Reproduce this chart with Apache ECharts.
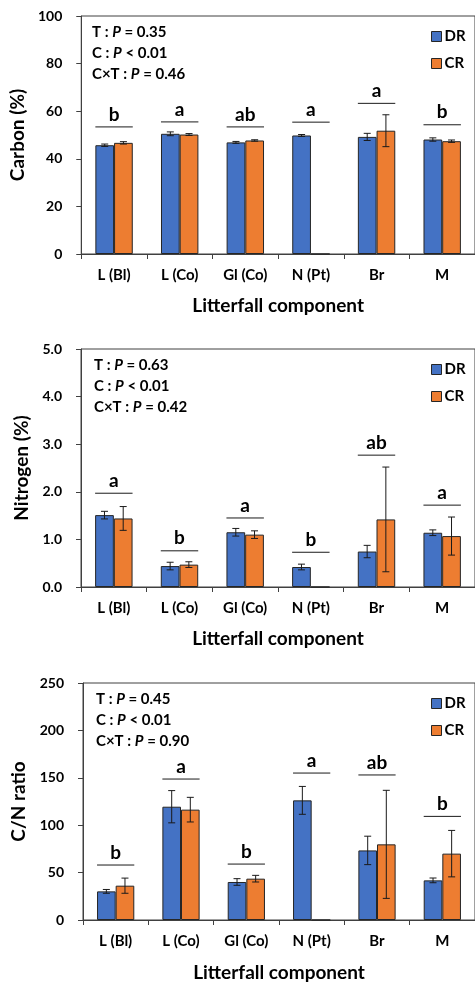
<!DOCTYPE html>
<html>
<head>
<meta charset="UTF-8">
<title>Litterfall C, N and C/N</title>
<script src="https://cdn.jsdelivr.net/npm/echarts@6/dist/echarts.min.js"></script>
<style>
  html, body { margin: 0; padding: 0; background: #fff; }
  #chart { width: 475px; height: 983px; }
</style>
</head>
<body>
<div id="chart"></div>
<script>
// categories
var categories = ['L (Bl)', 'L (Co)', 'Gl (Co)', 'N (Pt)', 'Br', 'M'];

// carbon (%)
var carbonDR = [45.7, 50.5, 46.9, 49.8, 49.2, 48.1];
var carbonDRErr = [0.5, 0.8, 0.4, 0.4, 1.5, 0.7];
var carbonCR = [46.7, 50.2, 47.7, 0, 51.8, 47.4];
var carbonCRErr = [0.5, 0.4, 0.3, 0, 6.7, 0.5];
var carbonLetters = ['b', 'a', 'ab', 'a', 'a', 'b'];
var carbonLineAt = [53.4, 55.5, 53.4, 55.4, 63.3, 54.3];
var carbonStats = ['0.35', '< 0.01', '0.46'];

// nitrogen (%)
var nitroDR = [1.51, 0.44, 1.15, 0.42, 0.745, 1.14];
var nitroDRErr = [0.08, 0.08, 0.08, 0.06, 0.13, 0.06];
var nitroCR = [1.44, 0.47, 1.10, 0, 1.42, 1.07];
var nitroCRErr = [0.25, 0.06, 0.08, 0, 1.1, 0.4];
var nitroLetters = ['a', 'b', 'a', 'b', 'ab', 'a'];
var nitroLineAt = [1.97, 0.76, 1.45, 0.73, 2.77, 1.72];
var nitroStats = ['0.63', '< 0.01', '0.42'];

// C/N ratio
var cnDR = [30.2, 119.5, 40.1, 126.2, 73.4, 41.8];
var cnDRErr = [2, 17, 3.5, 14.7, 15, 2.5];
var cnCR = [36.2, 116.4, 43.6, 0, 79.8, 70];
var cnCRErr = [8, 13, 3.5, 0, 57, 24.5];
var cnLetters = ['b', 'a', 'b', 'a', 'ab', 'b'];
var cnLineAt = [58, 148.7, 59, 155, 153, 109.3];
var cnStats = ['0.45', '< 0.01', '0.90'];

var FONT = 'Lato';
var BLUE = '#4472C4';
var ORANGE = '#ED7D31';
var EDGE = '#262626';
var PAIR = 0.57; // share of the category used by the two bars

var panels = [
  { name: 'Carbon (%)', max: 100, interval: 20, dec: 0, dr: carbonDR, drErr: carbonDRErr, cr: carbonCR, crErr: carbonCRErr,
    letters: carbonLetters, lineAt: carbonLineAt, stats: carbonStats,
    grid: { left: 79, top: 16, width: 399, height: 238 }, nameGap: 51, xGap: 42 },
  { name: 'Nitrogen (%)', max: 5, interval: 1, dec: 1, dr: nitroDR, drErr: nitroDRErr, cr: nitroCR, crErr: nitroCRErr,
    letters: nitroLetters, lineAt: nitroLineAt, stats: nitroStats,
    grid: { left: 81, top: 349, width: 398, height: 238 }, nameGap: 46, xGap: 42 },
  { name: 'C/N ratio', max: 250, interval: 50, dec: 0, dr: cnDR, drErr: cnDRErr, cr: cnCR, crErr: cnCRErr,
    letters: cnLetters, lineAt: cnLineAt, stats: cnStats,
    grid: { left: 83, top: 683, width: 396, height: 237 }, nameGap: 49, xGap: 43 }
];

var grids = [], xAxes = [], yAxes = [], series = [], legends = [], graphics = [];

// error bars; side -1 = DR, +1 = CR
function errorSeries(i, vals, errs, side) {
  var d = vals.map(function (v, k) { return [k, v, errs[k]]; });
  return {
    type: 'custom', xAxisIndex: i, yAxisIndex: i, z: 5, silent: true,
    data: d,
    renderItem: function (params, api) {
      var err = api.value(2);
      if (!err) return null;
      var band = api.size([1, 0])[0];
      var off = side * band * PAIR / 4;
      var top = api.coord([api.value(0), api.value(1) + err]);
      var bot = api.coord([api.value(0), api.value(1) - err]);
      var x = top[0] + off;
      var st = { stroke: '#1a1a1a', lineWidth: 1 };
      return { type: 'group', children: [
        { type: 'line', shape: { x1: x, y1: top[1], x2: x, y2: bot[1] }, style: st },
        { type: 'line', shape: { x1: x - 3.5, y1: top[1], x2: x + 3.5, y2: top[1] }, style: st },
        { type: 'line', shape: { x1: x - 3.5, y1: bot[1], x2: x + 3.5, y2: bot[1] }, style: st }
      ] };
    }
  };
}

// significance letters over a line
function letterSeries(i, lineAt, letters) {
  return {
    type: 'custom', xAxisIndex: i, yAxisIndex: i, z: 6, silent: true,
    data: lineAt.map(function (v, k) { return [k, v]; }),
    renderItem: function (params, api) {
      var band = api.size([1, 0])[0];
      var half = band * PAIR / 2;
      var p = api.coord([api.value(0), api.value(1)]);
      return { type: 'group', children: [
        { type: 'line', shape: { x1: p[0] - half, y1: p[1], x2: p[0] + half, y2: p[1] },
          style: { stroke: '#1a1a1a', lineWidth: 1 } },
        { type: 'text', x: p[0], y: p[1] - 3,
          style: { text: letters[params.dataIndex], fill: '#000', font: 'bold 19px ' + FONT,
                   align: 'center', verticalAlign: 'bottom' } }
      ] };
    }
  };
}

panels.forEach(function (p, i) {
  grids.push(Object.assign({ show: true, borderColor: '#404040', borderWidth: 1 }, p.grid));
  xAxes.push({
    type: 'category', gridIndex: i, data: categories,
    name: 'Litterfall component', nameLocation: 'middle', nameGap: p.xGap,
    nameTextStyle: { fontFamily: FONT, fontWeight: 'bold', fontSize: 19, color: '#000' },
    axisLine: { lineStyle: { color: '#404040', width: 1 } },
    axisTick: { show: true, length: 5, lineStyle: { color: '#404040' } },
    axisLabel: { margin: 14, fontFamily: FONT, fontWeight: 'bold', fontSize: 15, color: '#000' }
  });
  yAxes.push({
    type: 'value', gridIndex: i, min: 0, max: p.max, interval: p.interval,
    name: p.name, nameLocation: 'middle', nameGap: p.nameGap,
    nameTextStyle: { fontFamily: FONT, fontWeight: 'bold', fontSize: 19, color: '#000' },
    axisLine: { show: true, lineStyle: { color: '#404040', width: 1 } },
    axisTick: { show: true, length: 5, lineStyle: { color: '#404040' } },
    splitLine: { show: false },
    axisLabel: { margin: 19, fontFamily: FONT, fontWeight: 'bold', fontSize: 14, color: '#000',
      formatter: function (v) { return v.toFixed(p.dec); } }
  });
  series.push({
    name: 'DR', type: 'bar', xAxisIndex: i, yAxisIndex: i, data: p.dr,
    barGap: '0%', barCategoryGap: '43%',
    itemStyle: { color: BLUE, borderColor: EDGE, borderWidth: 1 }
  });
  series.push({
    name: 'CR', type: 'bar', xAxisIndex: i, yAxisIndex: i, data: p.cr,
    barGap: '0%', barCategoryGap: '43%',
    itemStyle: { color: ORANGE, borderColor: EDGE, borderWidth: 1 }
  });
  series.push(errorSeries(i, p.dr, p.drErr, -1));
  series.push(errorSeries(i, p.cr, p.crErr, 1));
  series.push(letterSeries(i, p.lineAt, p.letters));

  legends.push({
    data: ['DR', 'CR'], orient: 'vertical', left: 431, top: p.grid.top + 13, padding: 0,
    itemWidth: 10, itemHeight: 10, itemGap: 12, icon: 'rect', selectedMode: false,
    itemStyle: { borderColor: EDGE, borderWidth: 1 },
    textStyle: { fontFamily: FONT, fontWeight: 'bold', fontSize: 15, color: '#000', padding: [0, 0, 0, -2] }
  });

  var rich = {
    n: { fontFamily: FONT, fontWeight: 'bold', fontSize: 15, fill: '#000' },
    i: { fontFamily: FONT, fontWeight: 'bold', fontStyle: 'italic', fontSize: 15, fill: '#000' }
  };
  var labels = ['T : ', 'C : ', 'C\u00d7T : '];
  p.stats.forEach(function (s, k) {
    var rel = s.charAt(0) === '<' ? ' ' + s : ' = ' + s;
    graphics.push({
      type: 'text', left: p.grid.left + 13, top: p.grid.top + 9 + k * 21,
      style: { text: '{n|' + labels[k] + '}{i|P}{n|' + rel + '}', rich: rich }
    });
  });
});

var myChart = echarts.init(document.getElementById('chart'));
myChart.setOption({
  animation: false,
  grid: grids, xAxis: xAxes, yAxis: yAxes, legend: legends,
  series: series, graphic: graphics
});
</script>
</body>
</html>
